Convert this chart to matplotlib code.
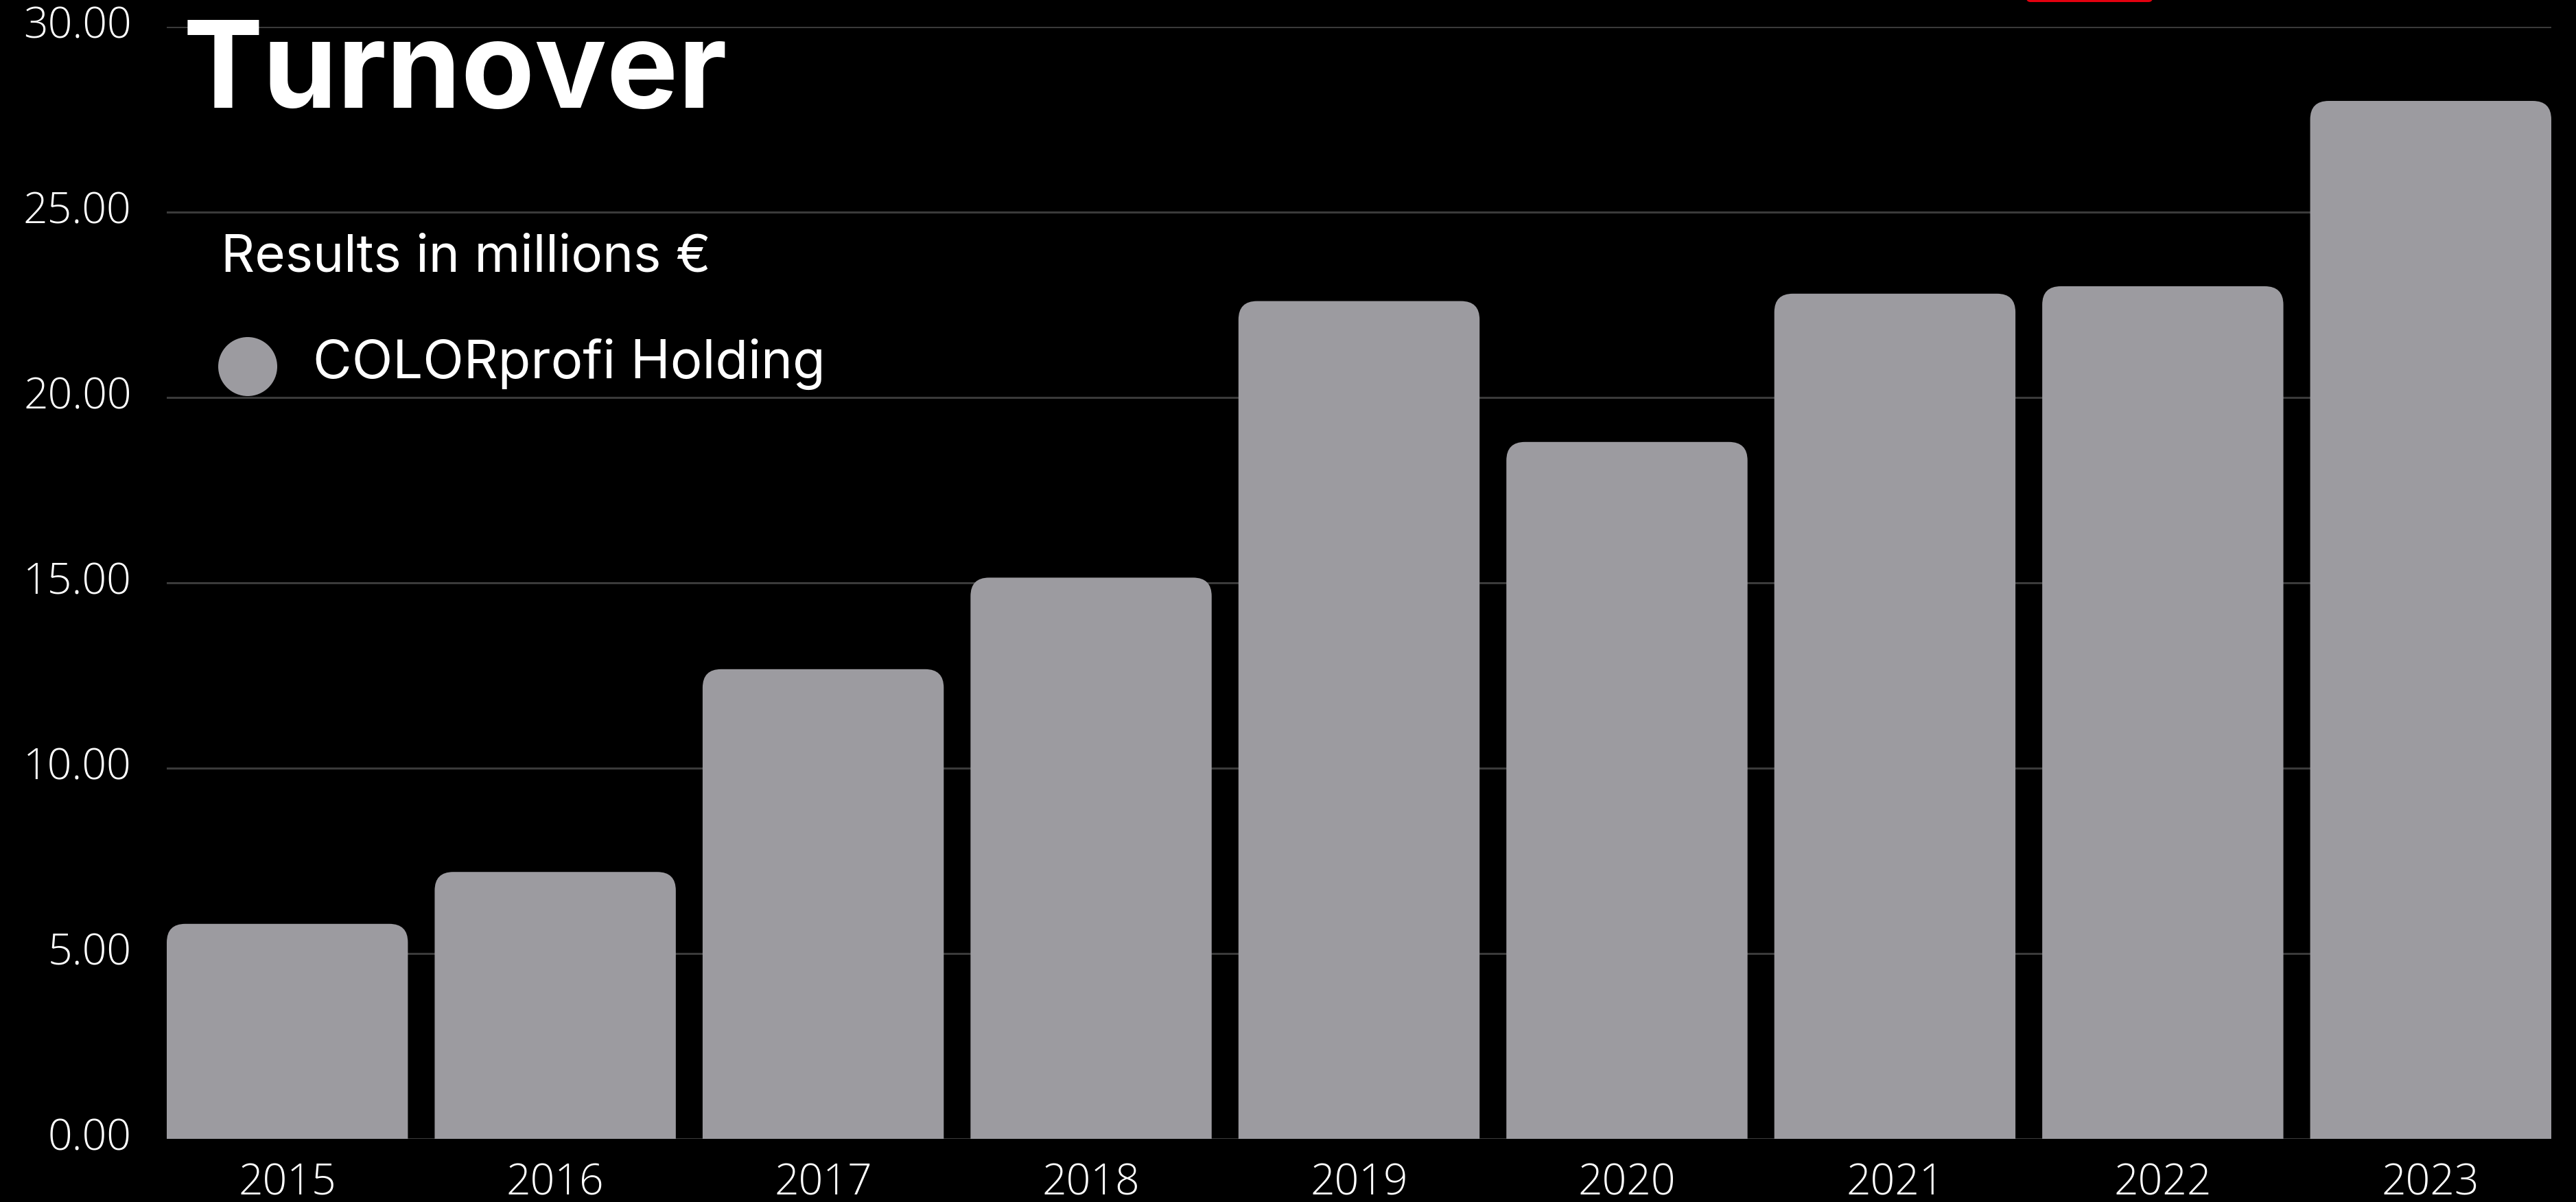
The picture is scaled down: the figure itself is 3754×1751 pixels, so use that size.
import numpy as np
import matplotlib.pyplot as plt
from matplotlib.patches import FancyBboxPatch, Circle

years = ['2015', '2016', '2017', '2018', '2019', '2020', '2021', '2022', '2023']
turnover = [5.80, 7.20, 12.67, 15.14, 22.60, 18.80, 22.80, 23.00, 28.00]
yticks = [0, 5, 10, 15, 20, 25, 30]

W, H = 3755, 1751
bar_col = '#9c9ba0'
grid_col = '#3a3a3a'

fig = plt.figure(figsize=(W / 100, H / 100), dpi=100, facecolor='black')
ax = fig.add_axes([243 / W, 1 - 1659 / H, (3718 - 243) / W, (1659 - 39) / H])
ax.set_facecolor('black')

x = np.arange(len(years))
width = 0.9
ax.set_xlim(-0.45, len(years) - 1 + 0.45)
ax.set_ylim(0, 30)

# rounded top corners, ~27 px radius
px_x = 1 / 390.5
px_y = 30 / 1620
r = 27 * px_x
aspect = px_y / px_x
for xi, v in zip(x, turnover):
    p = FancyBboxPatch((xi - width / 2, -2), width, v + 2,
                       boxstyle='round,pad=0,rounding_size=%f' % r,
                       mutation_aspect=aspect, facecolor=bar_col,
                       edgecolor='none', zorder=3)
    ax.add_patch(p)

ax.set_yticks(yticks)
ax.set_yticklabels(['%.2f' % t for t in yticks])
ax.set_xticks(x)
ax.set_xticklabels(years)
ax.yaxis.grid(True, color=grid_col, linewidth=2.2, zorder=0)
ax.set_axisbelow(True)
for s in ax.spines.values():
    s.set_visible(False)
ax.tick_params(axis='y', length=0, pad=37, colors='white', labelsize=45)
ax.tick_params(axis='x', length=0, pad=24, colors='white', labelsize=45)
for lab in ax.get_xticklabels() + ax.get_yticklabels():
    lab.set_fontfamily('Open Sans')
    lab.set_fontweight('light')
for lab in ax.get_yticklabels():
    lab.set_verticalalignment('center')

# title and legend
fig.text(267 / W, 1 - 157 / H, 'Turnover', color='white', fontsize=126,
         fontweight='bold', family='Inter', va='baseline', ha='left')
fig.text(322 / W, 1 - 396 / H, 'Results in millions €', color='white',
         fontsize=55, family='Inter', va='baseline', ha='left')
fig.add_artist(Circle((361, H - 534), 43, transform=None, facecolor=bar_col,
                      edgecolor='none'))
fig.text(456 / W, 1 - 551 / H, 'COLORprofi Holding', color='white',
         fontsize=56, family='Inter', va='baseline', ha='left')

# small red tab cut off at the top edge
fig.add_artist(FancyBboxPatch((2953, H - 3), 184, 30, transform=None,
                              boxstyle='round,pad=0,rounding_size=6',
                              facecolor='#e3000f', edgecolor='none'))

fig.savefig('out.png', dpi=100, facecolor='black')
